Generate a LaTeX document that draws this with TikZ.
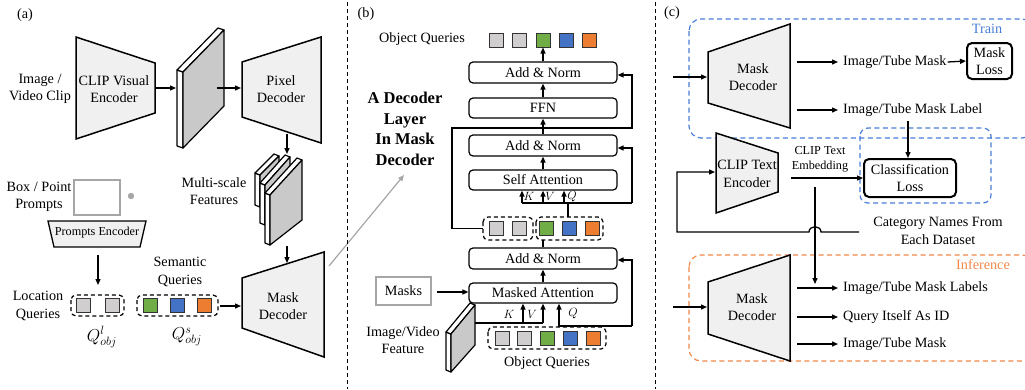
\documentclass[tikz,border=0pt]{standalone}
\usepackage{fontspec}
\setmainfont{Liberation Serif}
\usetikzlibrary{arrows.meta}
\definecolor{trap}{HTML}{F0F0F0}
\definecolor{slabc}{HTML}{C9C9C9}
\definecolor{qgray}{HTML}{D0CECE}
\definecolor{qgreen}{HTML}{70AD47}
\definecolor{qblue}{HTML}{4472C4}
\definecolor{qorange}{HTML}{ED7D31}
\definecolor{dblue}{HTML}{4A7DD6}
\definecolor{dorange}{HTML}{F08A4B}
\definecolor{lgray}{HTML}{A6A6A6}
\tikzset{
  txt/.style={font=\fontsize{14.2}{17.5}\selectfont, align=center, inner sep=0pt},
  stxt/.style={font=\fontsize{12.2}{15}\selectfont, align=center, inner sep=0pt},
  btxt/.style={font=\bfseries\fontsize{16.5}{20.5}\selectfont, align=center, inner sep=0pt},
  mtxt/.style={font=\fontsize{13}{13}\selectfont, inner sep=0pt},
  qtxt/.style={font=\fontsize{17.5}{18}\selectfont, inner sep=0pt},
  arr/.style={-{Triangle[length=6pt,width=5pt]}, line width=1.3pt},
  ln/.style={line width=1.3pt},
  trapz/.style={draw, fill=trap, line width=1.5pt, line join=miter},
  slabface/.style={draw, fill=slabc, line width=1.2pt, line join=round},
  slabside/.style={draw, fill=white, line width=1.2pt, line join=round},
  sq/.style={draw=black!80, line width=1pt, minimum size=14pt, inner sep=0pt},
  dbox/.style={draw, dash pattern=on 4pt off 3pt, line width=1.2pt, rounded corners=5pt},
  rbox/.style={draw, rounded corners=4pt, line width=1.2pt, minimum width=148pt, txt},
  lossbox/.style={draw, rounded corners=5pt, line width=2pt, txt},
  divider/.style={draw, line width=1pt, dash pattern=on 4pt off 3pt},
  bigdash/.style={draw, line width=1.2pt, dash pattern=on 5pt off 3.5pt, rounded corners=12pt}
}
\begin{document}
\begin{tikzpicture}[x=1pt,y=-1pt]
\useasboundingbox (0,0) rectangle (1025,389);
\fill[white] (0,0) rectangle (1025,389);

% ---------------- panel (a)
\node[txt] (alab) at (25,15) {(a)};
\draw[trapz] (76,37) -- (155,63) -- (155,113) -- (76,139) -- cycle;
\node[txt] (clipv) at (114,89) {CLIP Visual\\Encoder};
\node[txt] (imgin) at (40,89) {Image /\\Video Clip};
\coordinate (clipvout) at (155,88);
\coordinate (slabin) at (176,88);
\draw[arr] (clipvout) -- (slabin);
% feature slab
\draw[slabside] (183,72) -- (183,148) -- (177,146) -- (177,70) -- cycle;
\draw[slabside] (183,72) -- (224,30) -- (218,28) -- (177,70) -- cycle;
\draw[slabface] (183,72) -- (224,30) -- (224,106) -- (183,148) -- cycle;
\coordinate (slabout) at (217,88);
\coordinate (pixin) at (241,88);
\draw[arr] (slabout) -- (pixin);
\draw[trapz] (242,62) -- (321,37) -- (321,143) -- (242,117) -- cycle;
\node[txt] (pixdec) at (281,89) {Pixel\\Decoder};
\coordinate (pixout) at (287,134);
\coordinate (msin) at (287,154);
\draw[arr] (pixout) -- (msin);
% multi-scale slabs
\foreach \a/\b/\c/\d/\e/\f/\g/\h in {260/175/279/156/279/192/260/207, 265/185/290/157/290/205/265/225, 270/195/302/160/302/220/270/245}{
  \draw[slabside] (\a,\b) -- (\g,\h) -- (\g-5,\h-2) -- (\a-5,\b-2) -- cycle;
  \draw[slabside] (\a,\b) -- (\c,\d) -- (\c-5,\d-2) -- (\a-5,\b-2) -- cycle;
  \draw[slabface] (\a,\b) -- (\c,\d) -- (\e,\f) -- (\g,\h) -- cycle;
}
\node[txt] (mslab) at (214,191) {Multi-scale\\Features};
\coordinate (msout) at (287,246);
\coordinate (mdin) at (287,263);
\draw[arr] (msout) -- (mdin);
\draw[trapz] (242,278) -- (324,252) -- (324,357) -- (242,328) -- cycle;
\node[txt] (mdeca) at (283,306) {Mask\\Decoder};
% prompts
\node[txt] (bplab) at (39,197) {Box / Point\\Prompts};
\draw[lgray, line width=2pt] (74,180) rectangle (120,215);
\fill[lgray] (131,196) circle[radius=3.2pt];
\draw[fill=trap, line width=1.3pt] (48,221) -- (146,221) -- (140,247) -- (54,247) -- cycle;
\node[stxt] (penc) at (97,233) {Prompts Encoder};
\coordinate (pencout) at (98,255);
\coordinate (locin) at (98,285);
\draw[arr] (pencout) -- (locin);
\node[txt] (loclab) at (38,306) {Location\\Queries};
\draw[dbox] (71,295) rectangle (124,316);
\node[sq, fill=qgray] (l1) at (83,305.5) {};
\node[sq, fill=qgray] (l2) at (112,305.5) {};
\node[txt] (semlab) at (180,272) {Semantic\\Queries};
\draw[dbox] (137,295) rectangle (218,316);
\node[sq, fill=qgreen] (s1) at (150,305.5) {};
\node[sq, fill=qblue] (s2) at (177,305.5) {};
\node[sq, fill=qorange] (s3) at (204,305.5) {};
\coordinate (semout) at (220,306);
\coordinate (mdain) at (241,306);
\draw[arr] (semout) -- (mdain);
\node[qtxt] (ql) at (102,337) {$Q^{l}_{obj}$};
\node[qtxt] (qs) at (187,337) {$Q^{s}_{obj}$};
\coordinate (zoomfrom) at (329,266);
\coordinate (zoomto) at (404,175);
\draw[lgray, line width=1.2pt, -{Triangle[length=6pt,width=5pt]}] (zoomfrom) -- (zoomto);

% dividers
\draw[divider] (347,2) -- (347,389);
\draw[divider] (655,2) -- (655,389);

% ---------------- panel (b)
\node[txt] (blab) at (366,14) {(b)};
\node[txt] (oqtop) at (422,39) {Object Queries};
\node[sq, fill=qgray] (t1) at (496,40) {};
\node[sq, fill=qgray] (t2) at (519,40) {};
\node[sq, fill=qgreen] (t3) at (543,40) {};
\node[sq, fill=qblue] (t4) at (566,40) {};
\node[sq, fill=qorange] (t5) at (589,40) {};
\node[rbox, minimum height=21pt] (an1) at (543,72.5) {Add \& Norm};
\node[rbox, minimum height=20pt] (ffn) at (543,108) {FFN};
\node[rbox, minimum height=21pt] (an2) at (543,145.5) {Add \& Norm};
\node[rbox, minimum height=20pt] (sa) at (543,180) {Self Attention};
\node[rbox, minimum height=21pt] (an3) at (543,258.5) {Add \& Norm};
\node[rbox, minimum height=20pt] (ma) at (543,293) {Masked Attention};
\draw[arr] (an1.north) -- (t3.south);
\draw[arr] (ffn.north) -- (an1.south);
\draw[arr] (an2.north) -- (ffn.south);
\draw[arr] (sa.north) -- (an2.south);
\draw[arr] (ma.north) -- (an3.south);
% middle query groups
\draw[dbox] (483,217) rectangle (533,240);
\draw[dbox] (536,217) rectangle (603,240);
\node[sq, fill=qgray] (m1) at (496,228.5) {};
\node[sq, fill=qgray] (m2) at (519,228.5) {};
\node[sq, fill=qgreen] (m3) at (546,228.5) {};
\node[sq, fill=qblue] (m4) at (569,228.5) {};
\node[sq, fill=qorange] (m5) at (592,228.5) {};
\coordinate (midbot) at (543,240);
\draw[ln] (an3.north) -- (midbot);
\coordinate (locgrp) at (483,228.5);
\draw[ln, -{Triangle[length=6pt,width=5pt]}] (locgrp) -- (452,228.5) -- (452,128) -- (632,128) -- (632,75) -- (an1.east |- 0,75);
\coordinate (semgrp) at (568,217);
\draw[ln] (semgrp) -- (568,203);
\draw[ln] (522,203) -- (632,203);
\draw[arr] (632,203) -- (632,148) -- (an2.east |- 0,148);
\draw[arr] (522,203) -- (sa.south -| 522,0);
\draw[arr] (543,203) -- (sa.south);
\draw[arr] (564,203) -- (sa.south -| 564,0);
\node[mtxt] (k1) at (529,196.5) {$K$};
\node[mtxt] (v1) at (550,196.5) {$V$};
\node[mtxt] (q1) at (572,196.5) {$Q$};
% masks
\node[draw=lgray, line width=2pt, minimum width=55pt, minimum height=28pt, txt] (masks) at (403.5,291) {Masks};
\draw[arr] (masks.east) ++(5,1) -- (ma.west |- 0,292);
% image/video feature slab
\draw[slabside] (451,334) -- (451,372) -- (446,370) -- (446,332) -- cycle;
\draw[slabside] (451,334) -- (475,305) -- (470,303) -- (446,332) -- cycle;
\draw[slabface] (451,334) -- (475,305) -- (475,345) -- (451,372) -- cycle;
\coordinate (featout) at (475,323);
\draw[ln] (featout) -- (543,323);
\draw[arr] (523,323) -- (ma.south -| 523,0);
\draw[arr] (543,323) -- (ma.south);
\node[mtxt] (k2) at (509,314) {$K$};
\node[mtxt] (v2) at (532,314) {$V$};
\node[mtxt] (q2) at (573,314) {$Q$};
\coordinate (qsrc) at (559,327);
\draw[arr] (qsrc) -- (ma.south -| 559,0);
\draw[ln] (559,326) -- (632,326);
\draw[arr] (632,326) -- (632,260) -- (an3.east |- 0,260);
\node[txt] (ivf) at (403,340) {Image/Video\\Feature};
\draw[dbox] (488,327) rectangle (606,349);
\node[sq, fill=qgray] (b1) at (502,338) {};
\node[sq, fill=qgray] (b2) at (524,338) {};
\node[sq, fill=qgreen] (b3) at (547,338) {};
\node[sq, fill=qblue] (b4) at (570,338) {};
\node[sq, fill=qorange] (b5) at (593,338) {};
\node[txt] (oqbot) at (547,363) {Object Queries};
\node[btxt] (declayer) at (405,129) {A Decoder\\Layer\\In Mask\\Decoder};

% ---------------- panel (c)
\node[txt] (clab) at (672,13) {(c)};
\draw[bigdash, dblue] (689,19) rectangle (1034,138);
\node[txt, text=dblue] (train) at (987,29) {Train};
\draw[bigdash, dblue, rounded corners=8pt] (860,128) rectangle (991,203);
\draw[trapz] (708,52) -- (790,24) -- (790,128) -- (708,103) -- cycle;
\node[txt] (mdect) at (753,77) {Mask\\Decoder};
\coordinate (tin) at (673,77);
\draw[arr] (tin) -- (707,77);
\node[txt, anchor=west] (itm) at (843,62) {Image/Tube Mask};
\draw[arr] (797,62) -- ([xshift=-5pt]itm.west);
\node[lossbox, minimum width=45pt, minimum height=36pt] (mloss) at (989.5,61) {Mask\\Loss};
\draw[arr] ([xshift=1pt]itm.east) -- (mloss.west);
\node[txt, anchor=west] (itml) at (843,110) {Image/Tube Mask Label};
\draw[arr] (797,110) -- ([xshift=-5pt]itml.west);
\node[lossbox, minimum width=92pt, minimum height=38pt] (closs) at (910,178) {Classification\\Loss};
\draw[arr] (908,121) -- (closs.north -| 908,0);
\draw[trapz] (716,133) -- (778,153) -- (778,192) -- (716,213) -- cycle;
\node[txt] (ctenc) at (747,174) {CLIP Text\\Encoder};
\node[stxt] (cte) at (820,159) {CLIP Text\\Embedding};
\draw[arr] (791,178) -- (closs.west |- 0,178);
\node[txt] (catn) at (938,231) {Category Names From\\Each Dataset};
\coordinate (catout) at (859,232);
\draw[ln, -{Triangle[length=6pt,width=5pt]}] (catout) -- (821,232) .. controls (821,225) and (809,225) .. (809,232) -- (677,232) -- (677,172) -- (715,172);
% inference
\draw[bigdash, dorange] (689,255) rectangle (1034,361);
\node[txt, text=dorange] (inf) at (983,265) {Inference};
\draw[trapz] (708,282) -- (790,255) -- (790,361) -- (708,334) -- cycle;
\node[txt] (mdeci) at (752,307) {Mask\\Decoder};
\coordinate (iin) at (673,307);
\draw[arr] (iin) -- (707,307);
\node[txt, anchor=west] (o1) at (843,288) {Image/Tube Mask Labels};
\node[txt, anchor=west] (o2) at (843,317) {Query Itself As ID};
\node[txt, anchor=west] (o3) at (843,344) {Image/Tube Mask};
\draw[arr] (797,288) -- ([xshift=-5pt]o1.west);
\draw[arr] (797,317) -- ([xshift=-5pt]o2.west);
\draw[arr] (797,344) -- ([xshift=-5pt]o3.west);
\coordinate (embdown) at (815,187);
\draw[arr] (embdown) -- (815,284);
\end{tikzpicture}
\end{document}
